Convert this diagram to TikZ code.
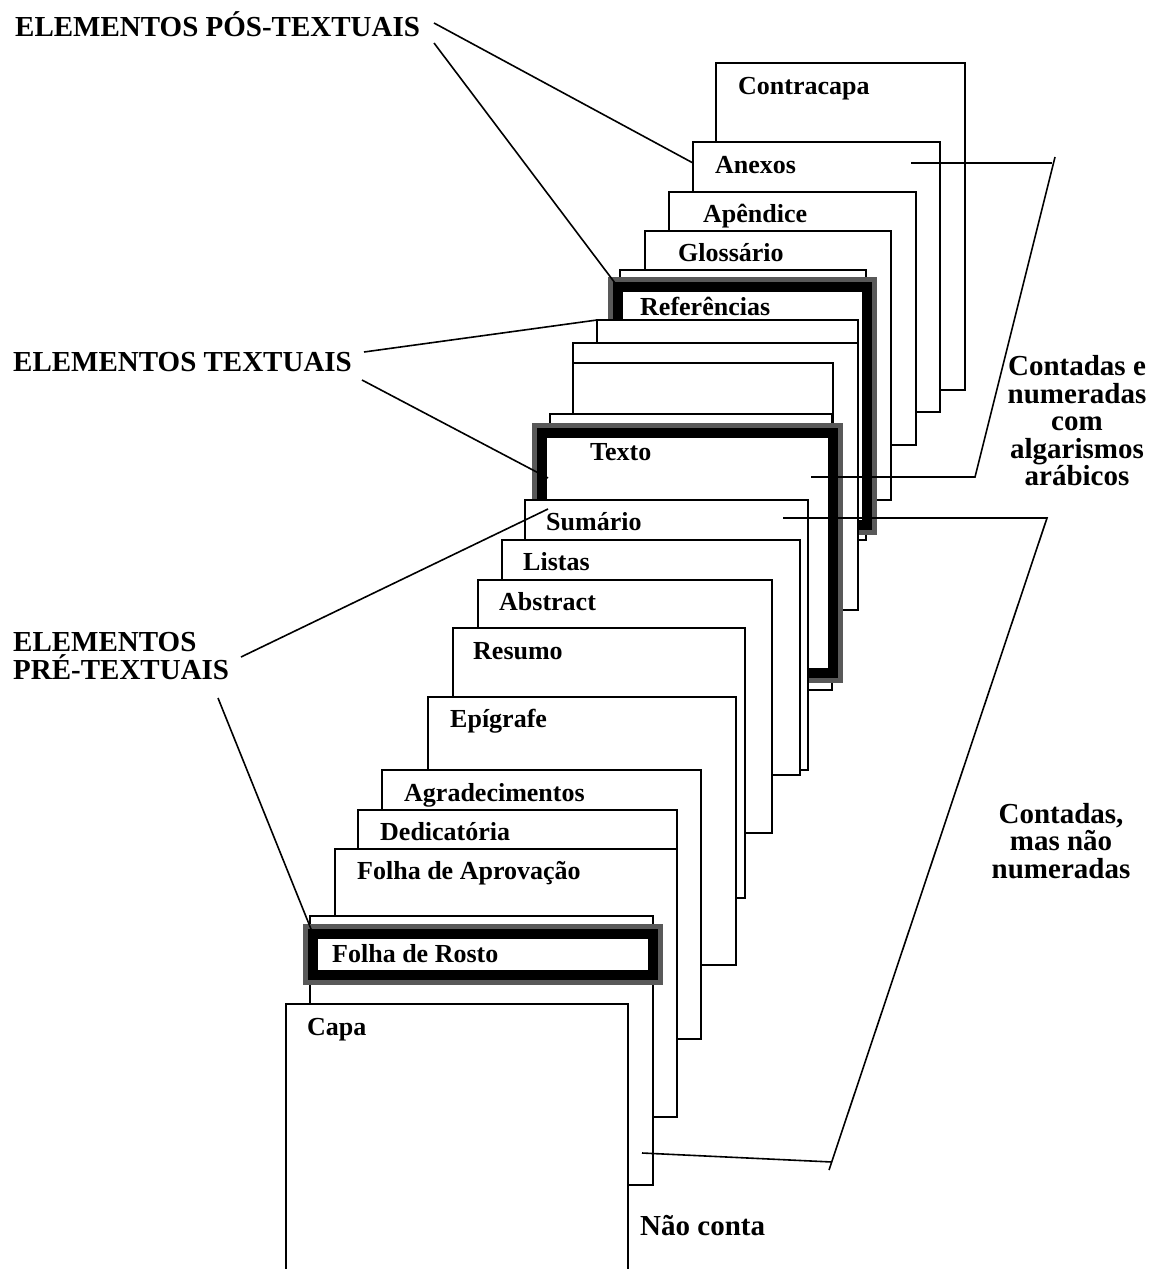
\documentclass[tikz,border=0pt]{standalone}
\usepackage{fontspec}
\setmainfont{Liberation Serif}
\begin{document}
\begin{tikzpicture}[x=1pt,y=-1pt,
  pg/.style={draw=black, line width=1.8pt, fill=white, inner sep=0pt, outer sep=0pt, anchor=north west},
  frm/.style={draw=black, line width=10pt, fill=white, inner sep=0pt, outer sep=0pt, anchor=north west,
              preaction={draw=black!65, line width=20pt}},
  lbl/.style={anchor=base west, inner sep=0pt, font=\fontsize{26}{28}\selectfont\bfseries},
  big/.style={inner sep=0pt, font=\fontsize{29}{27.5}\selectfont\bfseries},
  con/.style={line width=1.6pt}]
\useasboundingbox (0,0) rectangle (1161,1269);
\clip (0,0) rectangle (1161,1269);
\fill[white] (0,0) rectangle (1161,1269);

% ---- post-textual pages (back to front)
\node[pg, minimum width=249pt, minimum height=327pt] (contracapa) at (716,63) {};
\node[pg, minimum width=247pt, minimum height=270pt] (anexos) at (693,142) {};
\node[pg, minimum width=247pt, minimum height=253pt] (apendice) at (669,192) {};
\node[pg, minimum width=246pt, minimum height=269pt] (glossario) at (645,231) {};
\node[pg, minimum width=246pt, minimum height=270pt] (pa) at (620,270) {};
\node[frm, minimum width=249pt, minimum height=238pt] (ref) at (618,287) {};
% ---- textual pages
\node[pg, minimum width=261pt, minimum height=290pt] (pb) at (597,320) {};
\node[pg, minimum width=285pt, minimum height=267pt] (pc) at (573,343) {};
\node[pg, minimum width=260pt, minimum height=297pt] (pd) at (573,363) {};
\node[pg, minimum width=282pt, minimum height=276pt] (pe) at (550,414) {};
\node[frm, minimum width=291pt, minimum height=240pt] (texto) at (542,433) {};
% ---- pre-textual pages
\node[pg, minimum width=283pt, minimum height=270pt] (sumario) at (525,500) {};
\node[pg, minimum width=298pt, minimum height=235pt] (listas) at (502,540) {};
\node[pg, minimum width=294pt, minimum height=253pt] (abstract) at (478,580) {};
\node[pg, minimum width=292pt, minimum height=270pt] (resumo) at (453,628) {};
\node[pg, minimum width=308pt, minimum height=268pt] (epigrafe) at (428,697) {};
\node[pg, minimum width=319pt, minimum height=269pt] (agrad) at (382,770) {};
\node[pg, minimum width=319pt, minimum height=290pt] (dedic) at (358,810) {};
\node[pg, minimum width=342pt, minimum height=268pt] (aprov) at (335,849) {};
\node[pg, minimum width=343pt, minimum height=269pt] (pf) at (310,916) {};
\node[frm, minimum width=340pt, minimum height=41pt] (rosto) at (313,934) {};
\node[pg, minimum width=342pt, minimum height=285pt] (capa) at (286,1004) {};

% ---- page labels
\node[lbl] (tcontracapa) at (738,94) {Contracapa};
\node[lbl] (tanexos) at (715,173) {Anexos};
\node[lbl] (tapendice) at (703,222) {Apêndice};
\node[lbl] (tglossario) at (678,261) {Glossário};
\node[lbl] (tref) at (640,315) {Referências};
\node[lbl] (ttexto) at (590,460) {Texto};
\node[lbl] (tsumario) at (546,530) {Sumário};
\node[lbl] (tlistas) at (523,570) {Listas};
\node[lbl] (tabstract) at (499,610) {Abstract};
\node[lbl] (tresumo) at (473,659) {Resumo};
\node[lbl] (tepigrafe) at (450,727) {Epígrafe};
\node[lbl] (tagrad) at (404,801) {Agradecimentos};
\node[lbl] (tdedic) at (380,840) {Dedicatória};
\node[lbl] (taprov) at (357,879) {Folha de Aprovação};
\node[lbl] (trosto) at (332,962) {Folha de Rosto};
\node[lbl] (tcapa) at (307,1035) {Capa};

% ---- headings and side texts
\node[big, anchor=base west] (hpos) at (15,36) {ELEMENTOS PÓS-TEXTUAIS};
\node[big, anchor=base west] (htex) at (13,371) {ELEMENTOS TEXTUAIS};
\node[big, anchor=west, align=left] (hpre) at (13,656) {ELEMENTOS\\PRÉ-TEXTUAIS};
\node[big, align=center] (cnum) at (1077,421) {Contadas e\\numeradas\\com\\algarismos\\arábicos};
\node[big, align=center] (cmas) at (1061,841) {Contadas,\\mas não\\numeradas};
\node[big, anchor=base west] (nao) at (640,1235) {Não conta};

% ---- connector end points
\coordinate (p1a) at (434,23);  \coordinate (p1b) at (693,163);
\coordinate (p2a) at (434,43);
\coordinate (t1a) at (364,352);
\coordinate (t2a) at (362,380); \coordinate (t2b) at (548,478);
\coordinate (r1a) at (241,657); \coordinate (r1b) at (548,509);
\coordinate (r2a) at (218,698);
\coordinate (b1a) at (911,163); \coordinate (b1b) at (1052,163);
\coordinate (b1t) at (1055,157); \coordinate (b1c) at (975,477); \coordinate (b1d) at (811,477);
\coordinate (b2a) at (783,518); \coordinate (b2b) at (1047,518); \coordinate (b2c) at (829,1170);
\coordinate (b2d) at (642,1153); \coordinate (b2e) at (832,1162);

% ---- connectors
\draw[con] (p1a) -- (p1b);
\draw[con] (p2a) -- (ref.north west);
\draw[con] (t1a) -- (pb.north west);
\draw[con] (t2a) -- (t2b);
\draw[con] (r1a) -- (r1b);
\draw[con] (r2a) -- (rosto.north west);
\draw[con] (b1a) -- (b1b);
\draw[con] (b1t) -- (b1c) -- (b1d);
\draw[con] (b2a) -- (b2b) -- (b2c);
\draw[con] (b2d) -- (b2e);
\end{tikzpicture}
\end{document}
